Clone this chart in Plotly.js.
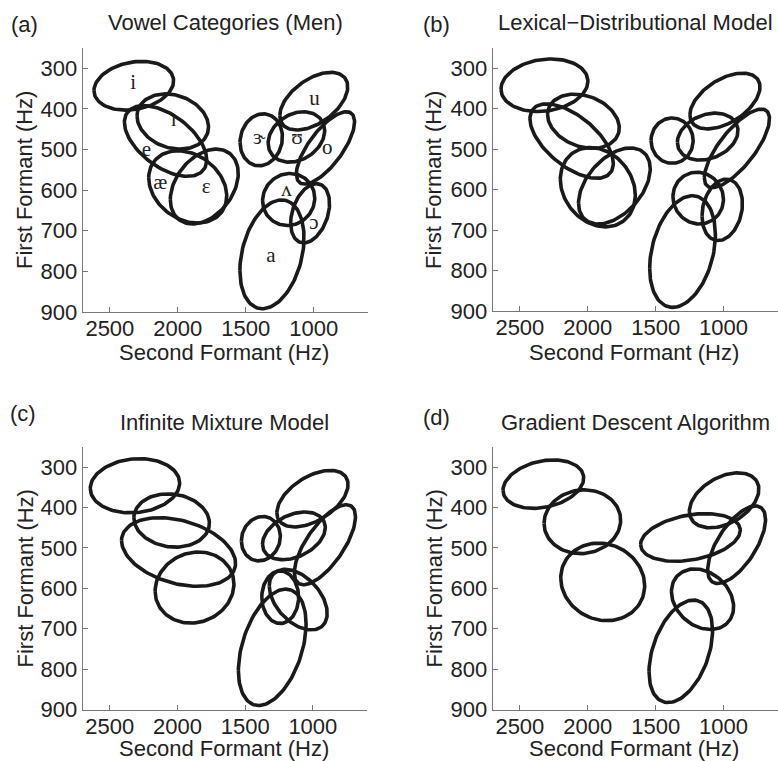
<!DOCTYPE html>
<html><head><meta charset="utf-8">
<script src="https://cdn.plot.ly/plotly-3.0.1.min.js"></script>
<style>html,body{margin:0;padding:0;background:#fff}#chart{width:778px;height:761px}</style>
</head><body><div id="chart"></div>
<script>
// ---- Panel (a): Vowel Categories (Men) ----
const vowelLabels = ['i','ɪ','e','æ','ɛ','ɝ','ʊ','u','o','ʌ','ɔ','a'];
const aF2   = [2324, 2037, 2090, 1927, 1805, 1386, 1127,  999,  913, 1184, 1026, 1307];
const aF1   = [ 343,  431,  479,  592,  591,  476,  469,  381,  496,  623,  657,  758];
const aH2   = [ 293,  263,  303,  287,  250,  156,  208,  250,  214,  192,  143,  236];
const aH1   = [  60,   68,   87,   89,   92,   64,   62,   71,   89,   64,   73,  134];
const aRho  = [ 0.2, -0.2,-0.53,-0.25, 0.35,  0.1, 0.25,  0.5, 0.72, 0.05, 0.33,  0.3];
const labelF2 = [2329, 2031, 2231, 2129, 1791, 1401, 1122,  993,  900, 1200,  998, 1315];
const labelF1 = [ 339,  429,  502,  584,  593,  474,  474,  378,  498,  601,  683,  763];

// ---- Panel (b): Lexical-Distributional Model ----
const bF2  = [2319, 2032, 2119, 1926, 1804, 1379, 1117,  990,  902, 1187, 1010, 1302];
const bF1  = [ 342,  431,  480,  594,  591,  479,  469,  381,  498,  621,  650,  753];
const bH2  = [ 320,  264,  307,  276,  264,  155,  223,  258,  240,  186,  149,  242];
const bH1  = [  65,   67,   92,   98,   94,   56,   58,   69,   97,   64,   76,  138];
const bRho = [0.15,-0.25, -0.6, -0.2, 0.45,  0.0, 0.25,  0.5, 0.75,-0.05,  0.2,  0.3];

// ---- Panel (c): Infinite Mixture Model ----
const cF2  = [2314, 2043, 1992, 1874, 1384, 1140, 1003,  911, 1241, 1108, 1300];
const cF1  = [ 346,  432,  510,  598,  477,  470,  378,  492,  622,  628,  746];
const cH2  = [ 330,  279,  421,  291,  144,  232,  263,  226,  136,  214,  250];
const cH1  = [  67,   66,   85,   88,   55,   59,   70,   99,   65,   75,  144];
const cRho = [ 0.1, -0.1,-0.33,  0.1,  0.1, 0.35,  0.5,  0.7,  0.0,-0.45,  0.4];

// ---- Panel (d): Gradient Descent Algorithm ----
const dF2  = [2327, 2040, 1890, 1244,  996,  904, 1155, 1315];
const dF1  = [ 342,  435,  584,  474,  382,  492,  627,  756];
const dH2  = [ 297,  282,  309,  367,  256,  213,  229,  234];
const dH1  = [  60,   79,   96,   59,   68,   96,   75,  127];
const dRho = [0.25, 0.05, -0.1,  0.3,  0.4, 0.65,-0.25,  0.4];

const xTicks = [1000, 1500, 2000, 2500];
const yTicks = [300, 400, 500, 600, 700, 800, 900];
const xTitle = 'Second Formant (Hz)';
const yTitle = 'First Formant (Hz)';
const panelTitles = ['Vowel Categories (Men)', 'Lexical−Distributional Model', 'Infinite Mixture Model', 'Gradient Descent Algorithm'];
const panelLetters = ['(a)', '(b)', '(c)', '(d)'];

function ellipseTraces(cx, cy, hx, hy, rho, axisId) {
  const traces = [];
  const N = 120;
  for (let k = 0; k < cx.length; k++) {
    const xs = [], ys = [];
    const s = Math.sqrt(1 - rho[k] * rho[k]);
    for (let j = 0; j <= N; j++) {
      const t = 2 * Math.PI * j / N;
      xs.push(cx[k] + hx[k] * Math.cos(t));
      ys.push(cy[k] + hy[k] * (rho[k] * Math.cos(t) + s * Math.sin(t)));
    }
    traces.push({x: xs, y: ys, type: 'scatter', mode: 'lines',
      line: {color: '#1a1a1a', width: 3.6}, hoverinfo: 'skip',
      xaxis: 'x' + axisId, yaxis: 'y' + axisId});
  }
  return traces;
}

const data = [].concat(
  ellipseTraces(aF2, aF1, aH2, aH1, aRho, ''),
  ellipseTraces(bF2, bF1, bH2, bH1, bRho, '2'),
  ellipseTraces(cF2, cF1, cH2, cH1, cRho, '3'),
  ellipseTraces(dF2, dF1, dH2, dH1, dRho, '4')
);
data.push({x: labelF2, y: labelF1, text: vowelLabels, type: 'scatter', mode: 'text',
  textfont: {family: '"Liberation Serif", "Times New Roman", serif', size: 21, color: '#222'},
  hoverinfo: 'skip', xaxis: 'x', yaxis: 'y'});

const font = '"Liberation Sans", Arial, Helvetica, sans-serif';
function xAx(dom, anchor) {
  return {domain: dom, anchor: anchor, range: [2700, 600], tickmode: 'array', tickvals: xTicks,
    ticks: 'inside', ticklen: 5, tickcolor: '#777', showline: true, linecolor: '#777', linewidth: 1,
    showgrid: false, zeroline: false, ticklabelstandoff: -3,
    tickfont: {family: font, size: 22, color: '#222'}};
}
function yAx(dom, anchor) {
  return {domain: dom, anchor: anchor, range: [900, 250], tickmode: 'array', tickvals: yTicks,
    ticks: 'inside', ticklen: 5, tickcolor: '#777', showline: true, linecolor: '#777', linewidth: 1,
    showgrid: false, zeroline: false, tickfont: {family: font, size: 22, color: '#222'}};
}
const W = 778, H = 761;
const px = v => v / W, py = v => 1 - v / H;

const annotations = [];
const letterPos = [[9, 24], [421, 24], [8, 413], [421, 417]];
const titlePos = [[225.3, 23], [635, 23], [224.5, 422], [635, 422]];
const xTitlePos = [[224, 352], [634, 352], [224, 748], [634, 748]];
const yTitlePos = [[25, 180], [434, 180], [25, 578.5], [434, 578.5]];
for (let i = 0; i < 4; i++) {
  const f = {family: font, size: 22, color: '#222'};
  annotations.push({text: panelLetters[i], x: px(letterPos[i][0]), y: py(letterPos[i][1]), xref: 'paper', yref: 'paper',
    xanchor: 'left', yanchor: 'middle', showarrow: false, font: f});
  annotations.push({text: panelTitles[i], x: px(titlePos[i][0]), y: py(titlePos[i][1]), xref: 'paper', yref: 'paper',
    xanchor: 'center', yanchor: 'middle', showarrow: false, font: f});
  annotations.push({text: xTitle, x: px(xTitlePos[i][0]), y: py(xTitlePos[i][1]), xref: 'paper', yref: 'paper',
    xanchor: 'center', yanchor: 'middle', showarrow: false, font: f, borderpad: 0});
  annotations.push({text: yTitle, x: px(yTitlePos[i][0]), y: py(yTitlePos[i][1]), xref: 'paper', yref: 'paper',
    xanchor: 'center', yanchor: 'middle', textangle: -90, showarrow: false, font: f});
}

const layout = {
  width: W, height: H, margin: {l: 0, r: 0, t: 0, b: 0}, showlegend: false,
  paper_bgcolor: '#fff', plot_bgcolor: '#fff',
  xaxis: xAx([px(82.7), px(368)], 'y'),  yaxis: yAx([py(312), py(48)], 'x'),
  xaxis2: xAx([px(492.7), px(777.9)], 'y2'), yaxis2: yAx([py(311), py(48)], 'x2'),
  xaxis3: xAx([px(82.7), px(367)], 'y3'), yaxis3: yAx([py(709.5), py(447)], 'x3'),
  xaxis4: xAx([px(492.7), px(777.9)], 'y4'), yaxis4: yAx([py(709.5), py(447)], 'x4'),
  annotations: annotations
};
Plotly.newPlot('chart', data, layout, {displayModeBar: false, staticPlot: true});
</script></body></html>
